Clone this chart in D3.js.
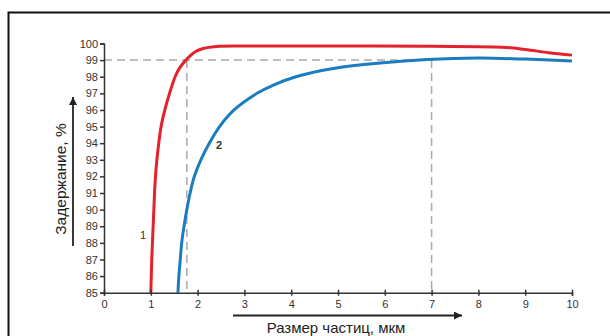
<!DOCTYPE html>
<html lang="ru">
<head>
  <meta charset="UTF-8">
  <title>Задержание</title>
  <script src="https://d3js.org/d3.v7.min.js"></script>
  <style>
    body { margin: 0; background: white; font-family: "Liberation Sans", Arial, sans-serif; }
    .axis path, .axis line { stroke: #333; stroke-width: 1.5px; }
    .axis text { fill: #333; font-size: 11px; font-family: "Liberation Sans", Arial, sans-serif; }
    .guide { stroke: #aaa; stroke-width: 1.5px; stroke-dasharray: 8,5; fill: none; }
    .curve { fill: none; stroke-width: 3px; stroke-linejoin: round; }
  </style>
</head>
<body>
<svg id="svg" width="610" height="336"></svg>
<script>
// data
const xTicks = [0, 1, 2, 3, 4, 5, 6, 7, 8, 9, 10];
const yTicks = [85, 86, 87, 88, 89, 90, 91, 92, 93, 94, 95, 96, 97, 98, 99, 100];

// curve 1 (red): [particle size, retention]
const curve1 = [
  [1.0, 85], [1.01, 86], [1.02, 87], [1.035, 88], [1.05, 89], [1.065, 90],
  [1.08, 91], [1.1, 92], [1.13, 93], [1.17, 94], [1.22, 95], [1.3, 96],
  [1.4, 97], [1.52, 98], [1.61, 98.5], [1.75, 99], [1.95, 99.5],
  [2.12, 99.7], [2.4, 99.82], [3, 99.85], [5, 99.85], [7, 99.83],
  [8.5, 99.78], [9, 99.64], [9.5, 99.45], [10, 99.3]
];
// curve 2 (blue)
const curve2 = [
  [1.58, 85], [1.6, 86], [1.63, 87], [1.66, 88], [1.71, 89], [1.77, 90],
  [1.84, 91], [1.93, 92], [2.07, 93], [2.25, 94], [2.47, 95], [2.78, 96],
  [3.27, 97], [3.62, 97.5], [4.1, 98], [4.9, 98.5], [5.9, 98.82],
  [6.9, 99.03], [8, 99.12], [9, 99.06], [10, 98.95]
];
const guideLevel = 99;
const guideX = [1.77, 7];

const svg = d3.select("#svg");

// frame
svg.append("rect")
  .attr("x", 8.5).attr("y", 12.5)
  .attr("width", 620).attr("height", 340)
  .attr("fill", "none").attr("stroke", "#111").attr("stroke-width", 2);

const x = d3.scaleLinear().domain([0, 10]).range([104, 572]);
const y = d3.scaleLinear().domain([85, 100]).range([292.7, 43.5]);

// dashed guides
const guides = svg.append("g");
guides.append("line").attr("class", "guide")
  .attr("x1", x(0)).attr("x2", x(7))
  .attr("y1", y(guideLevel)).attr("y2", y(guideLevel));
guides.selectAll(".vguide")
  .data(guideX)
  .join("line")
  .attr("class", "guide vguide")
  .attr("x1", d => x(d)).attr("x2", d => x(d))
  .attr("y1", y(guideLevel)).attr("y2", y(85));

// curves
const line = d3.line()
  .x(d => x(d[0]))
  .y(d => y(d[1]))
  .curve(d3.curveCatmullRom.alpha(0.5));

svg.append("path").attr("class", "curve")
  .attr("stroke", "#1b7cc0")
  .attr("d", line(curve2));
svg.append("path").attr("class", "curve")
  .attr("stroke", "#e3232c")
  .attr("d", line(curve1));

// axes
const xAxis = svg.append("g").attr("class", "axis")
  .attr("transform", `translate(0,${y(85)})`)
  .call(d3.axisBottom(x).tickValues(xTicks).tickSizeOuter(0).tickSize(3).tickPadding(5));
xAxis.selectAll(".tick line").attr("y1", -3).attr("y2", 3);

const yAxis = svg.append("g").attr("class", "axis")
  .attr("transform", `translate(${x(0)},0)`)
  .call(d3.axisLeft(y).tickValues(yTicks).tickSizeOuter(0).tickSize(4).tickPadding(2));

// curve numbers
svg.append("text").attr("x", 143).attr("y", 239)
  .attr("text-anchor", "middle").attr("font-size", 11).attr("fill", "#333").text("1");
svg.append("text").attr("x", 219).attr("y", 149)
  .attr("text-anchor", "middle").attr("font-size", 11).attr("fill", "#333")
  .attr("font-weight", "bold").text("2");

// arrows and titles
const defs = svg.append("defs");
defs.append("marker").attr("id", "arrow")
  .attr("viewBox", "0 0 10 10").attr("refX", 10).attr("refY", 5)
  .attr("markerWidth", 10).attr("markerHeight", 8)
  .attr("markerUnits", "userSpaceOnUse")
  .attr("orient", "auto")
  .append("path").attr("d", "M0,0L10,5L0,10Z").attr("fill", "#222");

svg.append("line")
  .attr("x1", 233).attr("x2", 462).attr("y1", 315.5).attr("y2", 315.5)
  .attr("stroke", "#222").attr("stroke-width", 1.8)
  .attr("marker-end", "url(#arrow)");
svg.append("line")
  .attr("x1", 73).attr("x2", 73).attr("y1", 246).attr("y2", 97)
  .attr("stroke", "#222").attr("stroke-width", 1.8)
  .attr("marker-end", "url(#arrow)");

svg.append("text")
  .attr("x", 336).attr("y", 333)
  .attr("text-anchor", "middle").attr("font-size", 15).attr("fill", "#222")
  .text("Размер частиц, мкм");
svg.append("text")
  .attr("transform", "translate(66,179) rotate(-90)")
  .attr("text-anchor", "middle").attr("font-size", 15.5).attr("fill", "#222")
  .text("Задержание, %");
</script>
</body>
</html>
